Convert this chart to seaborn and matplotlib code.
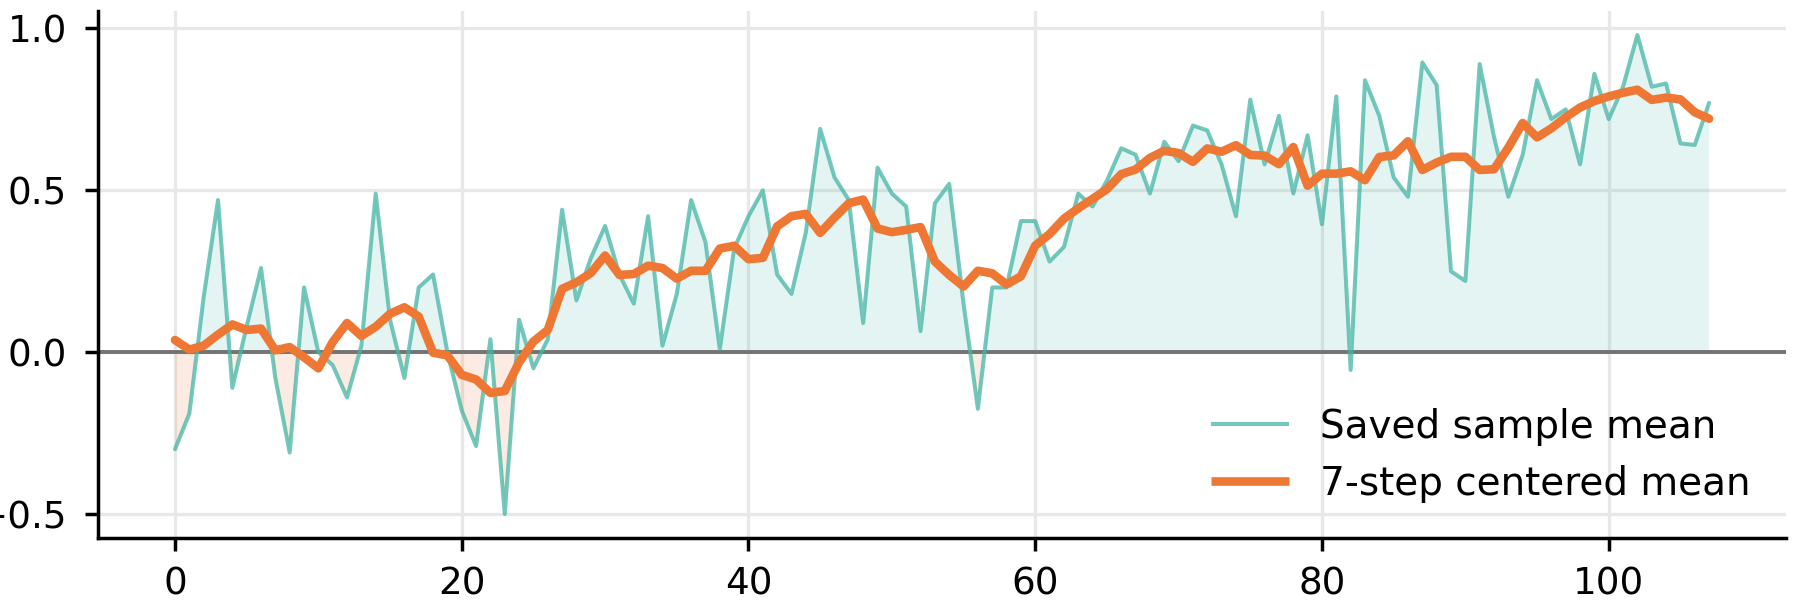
import numpy as np
import pandas as pd
import matplotlib
matplotlib.use("Agg")
import matplotlib.pyplot as plt
import seaborn as sns

steps = list(range(108))
sample_mean = [
    -0.30, -0.19, 0.17, 0.47, -0.11, 0.08, 0.26, -0.08, -0.31, 0.20,
    0.00, -0.04, -0.14, 0.02, 0.49, 0.10, -0.08, 0.20, 0.24, 0.00,
    -0.18, -0.29, 0.04, -0.50, 0.10, -0.05, 0.04, 0.44, 0.16, 0.29,
    0.39, 0.24, 0.15, 0.42, 0.02, 0.18, 0.47, 0.34, 0.01, 0.32,
    0.42, 0.50, 0.24, 0.18, 0.37, 0.69, 0.54, 0.47, 0.09, 0.57,
    0.49, 0.45, 0.065, 0.46, 0.52, 0.15, -0.175, 0.20, 0.20, 0.405,
    0.405, 0.28, 0.325, 0.49, 0.45, 0.53, 0.63, 0.61, 0.49, 0.65,
    0.59, 0.70, 0.685, 0.58, 0.42, 0.78, 0.58, 0.73, 0.49, 0.67,
    0.395, 0.79, -0.055, 0.84, 0.73, 0.54, 0.48, 0.895, 0.825, 0.25,
    0.22, 0.89, 0.665, 0.48, 0.61, 0.84, 0.72, 0.75, 0.58, 0.86,
    0.72, 0.82, 0.98, 0.82, 0.83, 0.645, 0.64, 0.77,
]
window = 7
labels = ["Saved sample mean", "7-step centered mean"]
x_ticks = [0, 20, 40, 60, 80, 100]
y_ticks = [-0.5, 0.0, 0.5, 1.0]

teal = "#44B5A5"
orange = "#EE7733"

df = pd.DataFrame({"step": steps, "sample": sample_mean})
df["smooth"] = df["sample"].rolling(window, center=True, min_periods=1).mean()

sns.set_theme(style="ticks")
plt.rcParams["font.family"] = ["DejaVu Sans"]
plt.rcParams["text.color"] = "black"
plt.rcParams["xtick.color"] = "black"
plt.rcParams["ytick.color"] = "black"

fig = plt.figure(figsize=(9, 3.045), dpi=200)
ax = fig.add_axes([0.0546, 0.1166, 0.9375, 0.8654])

x = df["step"].to_numpy()
y = df["sample"].to_numpy()
ax.fill_between(x, y, 0, where=y >= 0, interpolate=True, color=teal, alpha=0.14, linewidth=0)
ax.fill_between(x, y, 0, where=y < 0, interpolate=True, color=orange, alpha=0.14, linewidth=0)

sns.lineplot(data=df, x="step", y="sample", ax=ax, color=teal, alpha=0.75,
             linewidth=1.45, label=labels[0])
sns.lineplot(data=df, x="step", y="smooth", ax=ax, color=orange,
             linewidth=3.1, label=labels[1])
ax.axhline(0, color="0.45", linewidth=1.4, zorder=1.5)

ax.set_xticks(x_ticks)
ax.set_yticks(y_ticks)
ax.set_xlabel("")
ax.set_ylabel("")
ax.grid(True, color="#E8E8E8", linewidth=1.2)
ax.set_axisbelow(True)
for s in ["top", "right"]:
    ax.spines[s].set_visible(False)
for s in ["left", "bottom"]:
    ax.spines[s].set_linewidth(1.25)
    ax.spines[s].set_color("black")
ax.tick_params(axis="both", length=4.8, width=1.25, labelsize=13.4, colors="black")
ax.tick_params(axis="x", pad=5)
ax.tick_params(axis="y", pad=6.5)

leg = ax.legend(loc="lower right", frameon=False, fontsize=14)
for h in leg.get_lines():
    h.set_solid_capstyle("butt")

fig.savefig("out.png", dpi=200)
